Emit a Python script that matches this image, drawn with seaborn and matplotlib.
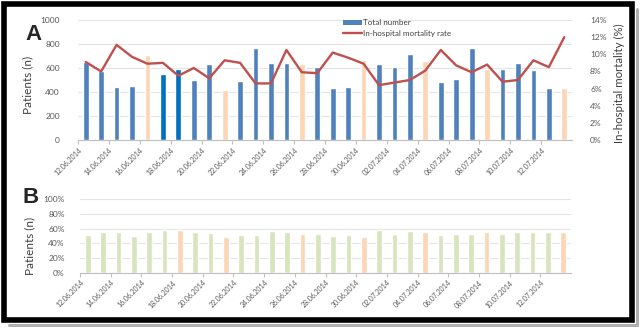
import numpy as np
import pandas as pd
import matplotlib
matplotlib.use("Agg")
import matplotlib.pyplot as plt
import seaborn as sns
from matplotlib.patches import Patch, Rectangle
from matplotlib.lines import Line2D

# ---------------- data ----------------
dates = ["12.06.2014", "13.06.2014", "14.06.2014", "15.06.2014", "16.06.2014",
         "17.06.2014", "18.06.2014", "19.06.2014", "20.06.2014", "21.06.2014",
         "22.06.2014", "23.06.2014", "24.06.2014", "25.06.2014", "26.06.2014",
         "27.06.2014", "28.06.2014", "29.06.2014", "30.06.2014", "01.07.2014",
         "02.07.2014", "03.07.2014", "04.07.2014", "05.07.2014", "06.07.2014",
         "07.07.2014", "08.07.2014", "09.07.2014", "10.07.2014", "11.07.2014",
         "12.07.2014", "13.07.2014"]

tick_labels = ["12.06.2014", "14.06.2014", "16.06.2014", "18.06.2014",
               "20.06.2014", "22.06.2014", "24.06.2014", "26.06.2014",
               "28.06.2014", "30.06.2014", "02.07.2014", "04.07.2014",
               "06.07.2014", "08.07.2014", "10.07.2014", "12.07.2014"]

total_number = [650, 575, 440, 450, 710, 550, 590, 500, 630, 420,
                490, 770, 640, 640, 635, 610, 435, 440, 665, 630,
                605, 715, 655, 480, 505, 770, 595, 590, 645, 585,
                430, 430]

mortality_rate = [9.1, 8.0, 11.1, 9.7, 8.9, 9.0, 7.5, 8.4, 7.2, 9.3,
                  9.0, 6.6, 6.6, 10.5, 7.9, 7.8, 10.2, 9.6, 8.9, 6.4,
                  6.7, 7.0, 8.1, 10.5, 8.7, 7.9, 8.8, 6.8, 7.0, 9.3,
                  8.5, 12.0]

kind_a = ["regular"] * 32
for i in (4, 9, 14, 18, 22, 26, 31):
    kind_a[i] = "special"
for i in (5, 6):
    kind_a[i] = "dark"

share_b = [51, 56, 55, 50, 55, 58, 58, 55.5, 53.5, 48.5,
           52, 52, 56.5, 55.5, 52.5, 53, 50, 51.5, 48, 58,
           53, 56.5, 55, 52, 53, 53, 55, 53, 55, 55,
           55, 55]

kind_b = ["regular"] * 32
for i in (6, 9, 14, 18, 22, 26, 31):
    kind_b[i] = "special"

# ---------------- style ----------------
sns.set_theme(style="white")
plt.rcParams["font.family"] = ["Lato", "DejaVu Sans"]

pal_a = {"regular": "#4F81BD", "dark": "#0070C0", "special": "#FCD5B5"}
pal_b = {"regular": "#D7E4BD", "special": "#FCD5B5"}
line_color = "#C0504D"
grid_color = "#E4E4E4"
axis_color = "#BFBFBF"
tick_color = "#595959"

W, H = 644, 332
fig = plt.figure(figsize=(W / 100, H / 100), dpi=100)

def ax_rect(x0, y_top, x1, y_bot):
    return [x0 / W, 1 - y_bot / H, (x1 - x0) / W, (y_bot - y_top) / H]

axA = fig.add_axes(ax_rect(78, 20, 572, 140))
axB = fig.add_axes(ax_rect(80, 199.3, 571, 272.7))

df_a = pd.DataFrame({"date": dates, "total": total_number, "kind": kind_a})
df_b = pd.DataFrame({"date": dates, "share": share_b, "kind": kind_b})

# ---------- draw marks ----------
sns.barplot(data=df_a, x="date", y="total", hue="kind", palette=pal_a,
            order=dates, dodge=False, width=0.37, legend=False, ax=axA,
            saturation=1, zorder=2)
axR = axA.twinx()
sns.lineplot(x=np.arange(len(dates)), y=mortality_rate, ax=axR,
             color=line_color, linewidth=1.7, zorder=3)
sns.barplot(data=df_b, x="date", y="share", hue="kind", palette=pal_b,
            order=dates, dodge=False, width=0.37, legend=False, ax=axB,
            saturation=1, zorder=2)

# ---------- axes formatting ----------
axA.set_ylim(0, 1000)
axA.set_yticks(np.arange(0, 1001, 200))
axR.set_ylim(0, 14)
axR.set_yticks(np.arange(0, 15, 2))
axR.set_yticklabels([f"{v}%" for v in range(0, 15, 2)])
axB.set_ylim(0, 100)
axB.set_yticks(np.arange(0, 101, 20))
axB.set_yticklabels([f"{v}%" for v in range(0, 101, 20)])

for ax in (axA, axB):
    ax.set_xlim(-0.5, len(dates) - 0.5)
    ax.set_xticks(np.arange(-0.5, len(dates) - 1, 2))
    ax.set_xticklabels(tick_labels, rotation=45, ha="right",
                       rotation_mode="anchor", fontsize=5, color=tick_color)
    ax.set_xlabel("")
    ax.grid(axis="y", color=grid_color, linewidth=0.8, zorder=0)
    ax.set_axisbelow(True)
    for s in ("left", "right", "top"):
        ax.spines[s].set_visible(False)
    ax.spines["bottom"].set_color(axis_color)
    ax.spines["bottom"].set_linewidth(0.8)
    ax.tick_params(axis="x", bottom=True, length=3, width=0.8,
                   color=axis_color, pad=1.5)
    ax.tick_params(axis="y", left=False, labelsize=6, labelcolor=tick_color,
                   pad=7)
axB.tick_params(axis="y", pad=5)

axR.set_xlim(-0.5, len(dates) - 0.5)
for s in ("left", "right", "top", "bottom"):
    axR.spines[s].set_visible(False)
axR.tick_params(axis="y", right=False, labelsize=6, labelcolor=tick_color,
                pad=7)
axR.grid(False)

axA.set_ylabel("Patients (n)", fontsize=8.5, color="#404040")
axA.yaxis.set_label_coords(-0.091, 0.46)
axR.set_ylabel("In-hospital mortality (%)", fontsize=8.3, color="#404040")
axR.yaxis.set_label_coords(1.085, 0.47)
axB.set_ylabel("Patients (n)", fontsize=8.5, color="#404040")
axB.yaxis.set_label_coords(-0.092, 0.37)

handles = [Patch(facecolor=pal_a["regular"], edgecolor="none"),
           Line2D([0], [0], color=line_color, linewidth=1.7)]
axR.legend(handles, ["Total number", "In-hospital mortality rate"],
           loc="upper left", bbox_to_anchor=(343 / W, 1 - 19 / H),
           bbox_transform=fig.transFigure, frameon=False, fontsize=5.8,
           handlelength=2.3, handleheight=0.55, handletextpad=0.15,
           labelspacing=0.45, borderpad=0, borderaxespad=0,
           labelcolor="#404040")

# ---------- panel letters ----------
fig.text(34 / W, 1 - 35 / H, "A", fontsize=16, fontweight="bold",
         ha="center", va="center", family=["Liberation Sans", "DejaVu Sans"])
fig.text(31 / W, 1 - 197 / H, "B", fontsize=16, fontweight="bold",
         ha="center", va="center", family=["Liberation Sans", "DejaVu Sans"])

# ---------- frame with shadow ----------
def fx(x):
    return x / W

def fy(y):
    return 1 - y / H

px = 72 / 100
fig.add_artist(Line2D([fx(637), fx(637)], [fy(9), fy(325)], color="#B0B0B0",
                      linewidth=3 * px, transform=fig.transFigure))
fig.add_artist(Line2D([fx(9), fx(637)], [fy(325), fy(325)], color="#B0B0B0",
                      linewidth=3 * px, transform=fig.transFigure))
fig.add_artist(Rectangle((fx(3.8), fy(320)), fx(632.3) - fx(3.8),
                         fy(3.8) - fy(320), fill=False, edgecolor="black",
                         linewidth=5.6 * px, transform=fig.transFigure))

fig.savefig("out.png", dpi=100)
